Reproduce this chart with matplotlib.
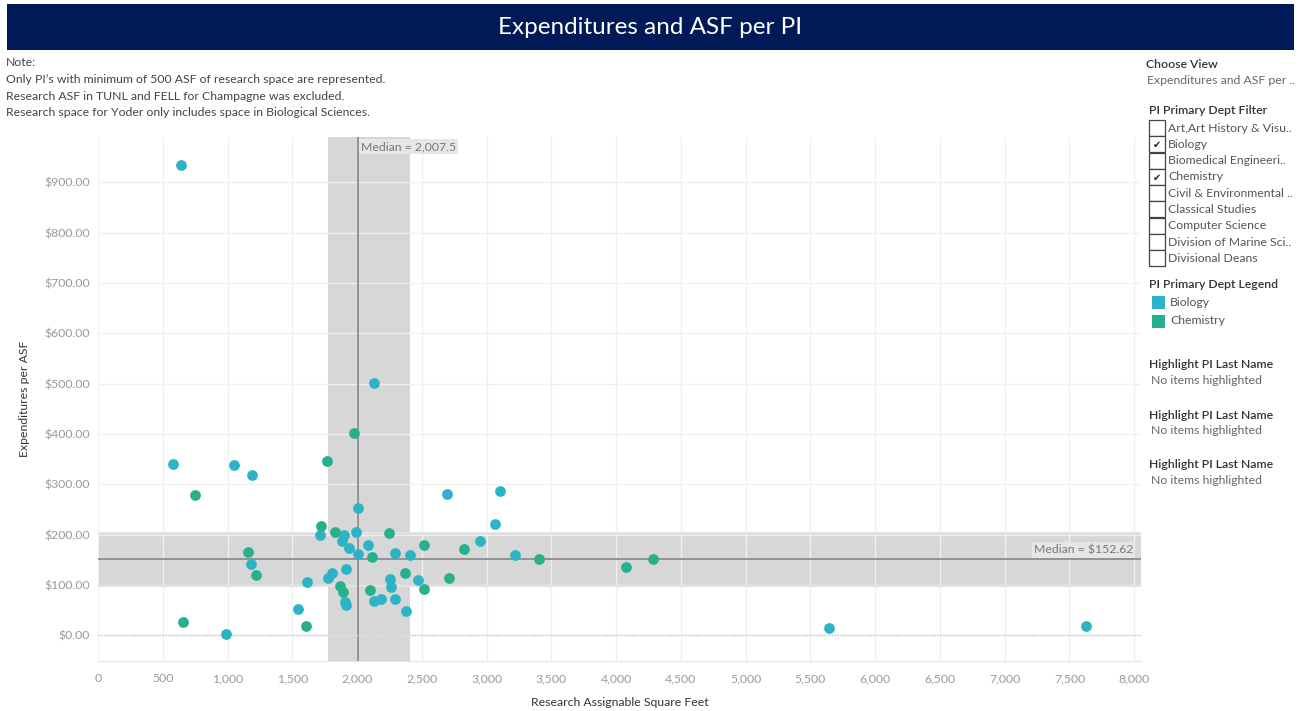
import matplotlib
matplotlib.use("Agg")
import matplotlib.pyplot as plt
from matplotlib.patches import Rectangle
from matplotlib.ticker import FuncFormatter, MultipleLocator

plt.rcParams['font.family'] = ['Lato', 'DejaVu Sans']

W, H = 1301, 711

# research ASF and expenditures per ASF
bio_asf = [639, 2129, 577, 1053, 1187, 1179, 986, 1547, 2698, 3102, 2008, 3061,
           1710, 1897, 1988, 1882, 1941, 2083, 2947, 2008, 2289, 2409, 3223, 1913,
           1807, 1774, 1617, 2253, 2263, 2474, 1905, 1913, 2127, 2188, 2289, 2378,
           5645, 7629]
bio_exp = [935, 502, 341, 338, 319, 141.5, 3.4, 52, 280, 286, 252, 221.6,
           200, 200, 205, 187, 172.6, 180, 187, 160.7, 162.7, 159, 159, 132,
           124, 113, 105, 111.7, 96, 109, 66.8, 60, 67.5, 71.4, 72.8, 48,
           13.9, 17.9]
chem_asf = [1980, 1771, 1725, 1830, 2245, 2517, 2822, 2113, 3401, 2371, 2706,
            2513, 1872, 1890, 2103, 749, 1156, 1223, 659, 1609, 4073, 4281]
chem_exp = [401, 347, 218, 206, 204, 180, 172, 155, 150.8, 123, 113,
            92, 98.6, 86.7, 90, 278, 166, 119, 25.8, 17.9, 135.5, 151]

median_asf = 2007.5
median_exp = 152.62
asf_band = (1773, 2412)
exp_band = (96, 204.5)

filter_items = ["Art,Art History & Visu..", "Biology", "Biomedical Engineeri..",
                "Chemistry", "Civil & Environmental ..", "Classical Studies",
                "Computer Science", "Division of Marine Sci..", "Divisional Deans"]
filter_checked = [False, True, False, True, False, False, False, False, False]
legend_items = ["Biology", "Chemistry"]
legend_colors = ["#2cb3c5", "#26b08e"]

fig = plt.figure(figsize=(W / 100, H / 100), dpi=100)


def fx(x):
    return x / W


def fy(y):
    return 1 - y / H


# header bar
fig.add_artist(Rectangle((fx(7), fy(50)), fx(1287), 46 / H, transform=fig.transFigure,
                         facecolor="#001a57", edgecolor="none"))
fig.text(fx(650), fy(28), "Expenditures and ASF per PI", color="white", fontsize=17.5,
         ha="center", va="center")

notes = ["Note:",
         "Only PI\u2019s with minimum of 500 ASF of research space are represented.",
         "Research ASF in TUNL and FELL for Champagne was excluded.",
         "Research space for Yoder only includes space in Biological Sciences."]
for i, line in enumerate(notes):
    fig.text(fx(6), fy(63 + i * 16.5), line, fontsize=8.8, color="#444444", va="center")

ax = fig.add_axes([fx(98), fy(661), fx(1141 - 98), (661 - 137) / H])
ax.set_xlim(0, 8052)
ax.set_ylim(-51, 990)

# reference bands and median lines
ax.axvspan(asf_band[0], asf_band[1], color="#d7d7d7", zorder=0.5, lw=0)
ax.axhspan(exp_band[0], exp_band[1], color="#d7d7d7", zorder=0.5, lw=0)
ax.axhspan(exp_band[1] - 4, exp_band[1], color="#e2e2e2", zorder=0.6, lw=0)
ax.axhspan(exp_band[0], exp_band[0] + 4, color="#e2e2e2", zorder=0.6, lw=0)
ax.axvline(median_asf, color="#8c8c8c", lw=1.3, zorder=1)
ax.axhline(median_exp, color="#8c8c8c", lw=1.3, zorder=1)
ax.axhline(0, color="#c8c8c8", lw=1, ls=(0, (1, 1)), zorder=1)

ax.xaxis.set_major_locator(MultipleLocator(500))
ax.yaxis.set_major_locator(MultipleLocator(100))
ax.grid(True, color="#f0f0f0", lw=1, zorder=0.8)
ax.set_axisbelow(True)

ax.scatter(bio_asf, bio_exp, s=60, color=legend_colors[0], lw=0, zorder=3)
ax.scatter(chem_asf, chem_exp, s=60, color=legend_colors[1], lw=0, zorder=3)

ax.text(median_asf + 22, 971, "Median = 2,007.5", fontsize=8.8, color="#777777",
        va="center", ha="left", zorder=4,
        bbox=dict(facecolor="#e6e6e6", edgecolor="none", pad=1.5))
ax.text(7990, median_exp + 17, "Median = $152.62", fontsize=8.8, color="#777777",
        va="center", ha="right", zorder=4,
        bbox=dict(facecolor="#e6e6e6", edgecolor="none", pad=1.5))

ax.xaxis.set_major_formatter(FuncFormatter(lambda v, p: f"{int(v):,}"))
ax.yaxis.set_major_formatter(FuncFormatter(lambda v, p: f"${v:,.2f}"))
ax.set_yticks([v * 100 for v in range(10)])
ax.tick_params(axis="both", length=0, labelsize=8.8, labelcolor="#999999")
ax.tick_params(axis="y", pad=6)
ax.tick_params(axis="x", pad=9)
for side in ["top", "right", "left"]:
    ax.spines[side].set_visible(False)
ax.spines["bottom"].set_color("#e6e6e6")
ax.set_xlabel("Research Assignable Square Feet", fontsize=8.8, color="#333333", labelpad=9)
ax.set_ylabel("Expenditures per ASF", fontsize=8.8, color="#333333", labelpad=10)

# right side panel
fig.text(fx(1146), fy(65), "Choose View", fontsize=8.8, color="#333333", va="center",
         fontweight="semibold")
fig.text(fx(1147), fy(81), "Expenditures and ASF per ..", fontsize=8.8, color="#666666",
         va="center")
fig.text(fx(1149), fy(111), "PI Primary Dept Filter", fontsize=8.8, color="#333333",
         va="center", fontweight="semibold")
for i, (name, chk) in enumerate(zip(filter_items, filter_checked)):
    yc = 128 + i * 16.3
    fig.add_artist(Rectangle((fx(1149), fy(yc + 8)), 16 / W, 16 / H, transform=fig.transFigure,
                             facecolor="white", edgecolor="#444444", lw=0.9))
    if chk:
        fig.text(fx(1157), fy(yc + 1), "\u2714", fontsize=7, color="#222222",
                 ha="center", va="center", family="DejaVu Sans")
    fig.text(fx(1168), fy(yc), name, fontsize=8.8, color="#555555", va="center")

fig.text(fx(1149), fy(285), "PI Primary Dept Legend", fontsize=8.8, color="#333333",
         va="center", fontweight="semibold")
for i, (name, col) in enumerate(zip(legend_items, legend_colors)):
    yc = 302 + i * 19
    fig.add_artist(Rectangle((fx(1152), fy(yc + 6.5)), 13 / W, 13 / H, transform=fig.transFigure,
                             facecolor=col, edgecolor="none"))
    fig.text(fx(1170), fy(yc), name, fontsize=8.8, color="#555555", va="center")

for i in range(3):
    yc = 365 + i * 50
    fig.text(fx(1149), fy(yc), "Highlight PI Last Name", fontsize=8.8, color="#333333",
             va="center", fontweight="semibold")
    fig.text(fx(1151), fy(yc + 16), "No items highlighted", fontsize=8.8, color="#666666",
             va="center")

fig.savefig("out.png", dpi=100)
